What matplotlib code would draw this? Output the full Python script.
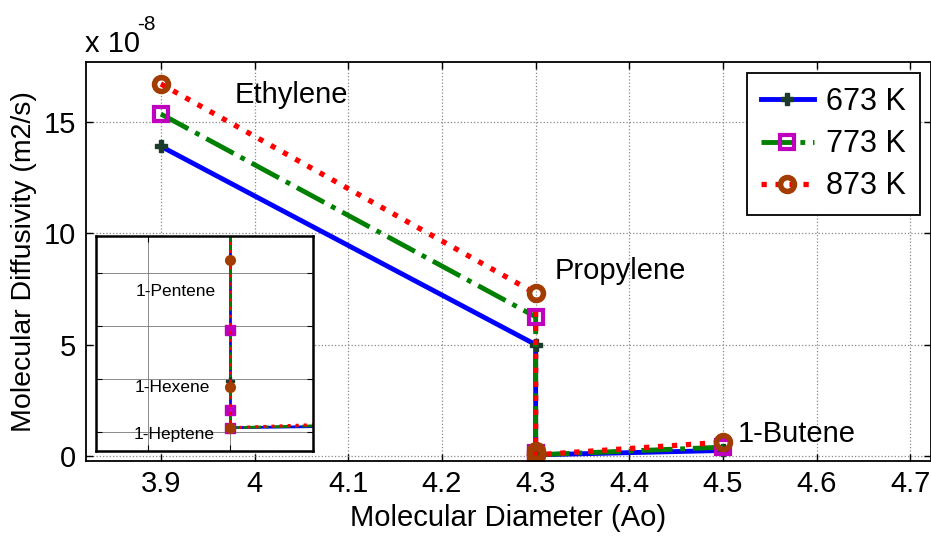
import matplotlib
matplotlib.use('Agg')
import matplotlib.pyplot as plt
from matplotlib import font_manager as fm

# font: narrow Arial-like if available
names = set(f.name for f in fm.fontManager.ttflist)
if 'Liberation Sans Narrow' in names:
    fam = ['Liberation Sans Narrow', 'DejaVu Sans']
else:
    fam = ['Liberation Sans', 'DejaVu Sans']
plt.rcParams['font.family'] = fam

# data (diffusivity in 1e-8 m2/s)
diam = [3.9, 4.3, 4.3, 4.3, 4.3, 4.5]
gases = ['Ethylene', 'Propylene', '1-Pentene', '1-Hexene', '1-Heptene', '1-Butene']
d673 = [13.9, 5.0, 0.145, 0.098, 0.054, 0.25]
d773 = [15.35, 6.25, 0.146, 0.071, 0.054, 0.40]
d873 = [16.7, 7.3, 0.212, 0.092, 0.054, 0.62]
temps = ['673 K', '773 K', '873 K']

fig = plt.figure(figsize=(9.31, 5.47), dpi=100)
ax = fig.add_axes([86/931, 1-460.5/547, 1-86/931, (460.5-61.7)/547])

styles = [
    dict(color='blue', ls='-', lw=3.5, marker='P', ms=8, mfc='#1b3b2b', mec='#1b3b2b'),
    dict(color='green', ls='-.', lw=3.5, marker='s', ms=10, mfc='none', mec='m', mew=3),
    dict(color='red', ls=':', lw=3.8, marker='o', ms=10, mfc='none', mec='#a33c00', mew=4),
]
series = [d673, d773, d873]

for s, st, lab in zip(series, styles, temps):
    ax.plot(diam, s, label=lab, **st)

ax.set_xlim(3.82, 4.722)
ax.set_ylim(-0.2, 17.7)
ax.set_xticks([3.9, 4.0, 4.1, 4.2, 4.3, 4.4, 4.5, 4.6, 4.7])
ax.set_xticklabels(['3.9', '4', '4.1', '4.2', '4.3', '4.4', '4.5', '4.6', '4.7'])
ax.set_yticks([0, 5, 10, 15])
ax.grid(True, ls=':', color='#888888', lw=0.9)
ax.tick_params(direction='in', top=True, right=True, labelsize=21, length=5, width=1, pad=7)
for sp in ax.spines.values():
    sp.set_linewidth(1.3)

ax.set_xlabel('Molecular Diameter (Ao)', fontsize=21, labelpad=4)
ax.set_ylabel('Molecular Diffusivity (m2/s)', fontsize=20.5, labelpad=5)
fig.text(85/931, 1-52/547, 'x 10', fontsize=21, va='baseline', ha='left')
fig.text(137/931, 1-30/547, '-8', fontsize=15, va='baseline', ha='left')

ax.text(3.979, 16.2, gases[0], fontsize=21, va='center')
ax.text(4.32, 8.3, gases[1], fontsize=21, va='center')
ax.text(4.516, 1.0, gases[5], fontsize=21, va='center')

leg = ax.legend(loc='upper right', bbox_to_anchor=(0.987, 0.971), borderaxespad=0,
                fontsize=22, fancybox=False, edgecolor='black', framealpha=1,
                handlelength=1.75, labelspacing=0.4, borderpad=0.45, handletextpad=0.4)
leg.get_frame().set_linewidth(1.3)

# inset zoom near 4.3
ins = fig.add_axes([96/931, 1-451/547, (313-96)/931, (451-236)/547])
ins_styles = [
    dict(color='blue', ls='-', lw=2, marker='P', ms=6, mfc='#1b3b2b', mec='#1b3b2b'),
    dict(color='green', ls='-.', lw=2, marker='s', ms=7, mfc='m', mec='m'),
    dict(color='red', ls=':', lw=2.2, marker='o', ms=7, mfc='#a33c00', mec='#a33c00'),
]
for s, st in zip(series, ins_styles):
    ins.plot(diam, s, **st)
ins.set_xlim(4.29837, 4.30099)
ins.set_ylim(0.032, 0.235)
ins.set_xticks([4.299, 4.300, 4.301])
ins.set_yticks([0.05, 0.10, 0.15, 0.20])
ins.grid(True, ls='-', color='#777777', lw=0.6)
ins.tick_params(direction='in', top=True, right=True, labelleft=False, labelbottom=False, length=4)
for sp in ins.spines.values():
    sp.set_linewidth(1.8)
ins.text(4.29934, 0.183, gases[2], fontsize=12.5, ha='center', va='center')
ins.text(4.29930, 0.0915, gases[3], fontsize=12.5, ha='center', va='center')
ins.text(4.29932, 0.048, gases[4], fontsize=12.5, ha='center', va='center')

fig.savefig('out.png', dpi=100)
